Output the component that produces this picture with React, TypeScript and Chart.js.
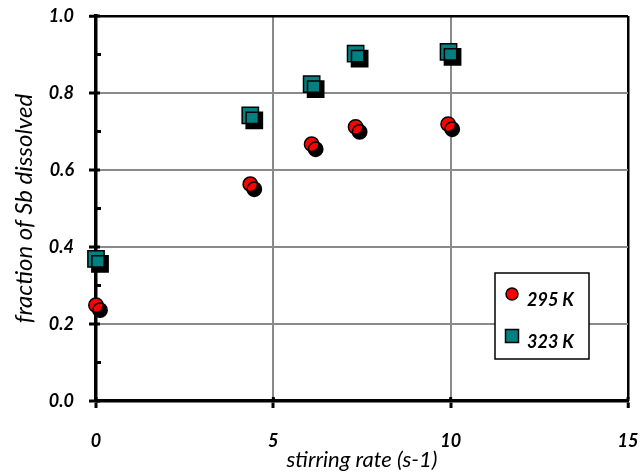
import React, { useEffect, useRef } from 'react';
import { Chart, registerables } from 'chart.js';

Chart.register(...registerables);

// ---- data ----
const seriesLabels = ['295 K', '323 K'];
const stirRate295 = [0, 4.35, 6.08, 7.32, 9.93];
const fraction295 = [0.249, 0.563, 0.667, 0.712, 0.719];
const stirRate323 = [0, 4.35, 6.08, 7.32, 9.94];
const fraction323 = [0.369, 0.742, 0.823, 0.902, 0.907];
const seriesColors = ['#ff0000', '#008080'];
const seriesShapes = ['circle', 'rect'];
const yMinorTicks = [0.1, 0.3, 0.5, 0.7, 0.9];
const xTitle = 'stirring rate (s-1)';
const yTitle = 'fraction of Sb dissolved';

const FONT = 'Lato, "Open Sans", sans-serif';

const shadowPlugin = {
  id: 'markerShadow',
  beforeDatasetDraw(chart: any) {
    const ctx = chart.ctx;
    ctx.save();
    ctx.shadowColor = '#000';
    ctx.shadowBlur = 0;
    ctx.shadowOffsetX = 4;
    ctx.shadowOffsetY = 5;
  },
  afterDatasetDraw(chart: any) {
    chart.ctx.restore();
  },
};

const ticksPlugin = {
  id: 'innerTicks',
  afterDraw(chart: any) {
    const ctx = chart.ctx;
    const { left, bottom } = chart.chartArea;
    const ys = chart.scales.y;
    const xs = chart.scales.x;
    ctx.save();
    ctx.strokeStyle = '#000';
    ctx.lineWidth = 3;
    ys.ticks.forEach((t: any) => {
      const py = ys.getPixelForValue(t.value);
      ctx.beginPath();
      ctx.moveTo(left, py);
      ctx.lineTo(left + 4, py);
      ctx.stroke();
    });
    yMinorTicks.forEach((v) => {
      const py = ys.getPixelForValue(v);
      ctx.beginPath();
      ctx.moveTo(left, py);
      ctx.lineTo(left + 5, py);
      ctx.stroke();
    });
    xs.ticks.forEach((t: any) => {
      const px = xs.getPixelForValue(t.value);
      ctx.beginPath();
      ctx.moveTo(px, bottom);
      ctx.lineTo(px, bottom - 4);
      ctx.stroke();
    });
    ctx.restore();
  },
};

const legendPlugin = {
  id: 'boxLegend',
  afterDraw(chart: any) {
    const ctx = chart.ctx;
    const { right, bottom } = chart.chartArea;
    const bw = 94;
    const bh = 86;
    const bx = right - 39 - bw;
    const by = bottom - 42 - bh;
    ctx.save();
    ctx.fillStyle = '#fff';
    ctx.fillRect(bx, by, bw, bh);
    ctx.strokeStyle = '#000';
    ctx.lineWidth = 1.5;
    ctx.strokeRect(bx, by, bw, bh);
    const rows = [21, 63];
    chart.data.datasets.forEach((ds: any, i: number) => {
      const cy = by + rows[i];
      const cx = bx + 17;
      ctx.fillStyle = ds.backgroundColor;
      ctx.strokeStyle = '#000';
      ctx.lineWidth = 1.5;
      ctx.beginPath();
      if (ds.pointStyle === 'rect') {
        ctx.rect(cx - 6.5, cy - 6.5, 13, 13);
      } else {
        ctx.arc(cx, cy, 6, 0, Math.PI * 2);
      }
      ctx.fill();
      ctx.stroke();
      ctx.fillStyle = '#000';
      ctx.font = `italic bold 18px ${FONT}`;
      ctx.textAlign = 'left';
      ctx.textBaseline = 'middle';
      ctx.fillText(ds.label, bx + 32, cy + 6);
    });
    ctx.restore();
  },
};

const isEdge = (v: number, edge: number) => Math.abs(v - edge) < 1e-6;

export default function App() {
  const ref = useRef<HTMLCanvasElement | null>(null);
  useEffect(() => {
    if (!ref.current) return;
    const mk = (xs: number[], ys: number[]) => xs.map((x, i) => ({ x, y: ys[i] }));
    const chart = new Chart(ref.current, {
      type: 'scatter',
      data: {
        datasets: [
          {
            label: seriesLabels[0],
            data: mk(stirRate295, fraction295),
            backgroundColor: seriesColors[0],
            borderColor: '#000',
            borderWidth: 1.5,
            pointStyle: seriesShapes[0] as any,
            pointRadius: 7.2,
            clip: false as any,
          },
          {
            label: seriesLabels[1],
            data: mk(stirRate323, fraction323),
            backgroundColor: seriesColors[1],
            borderColor: '#000',
            borderWidth: 1.5,
            pointStyle: seriesShapes[1] as any,
            pointRadius: 11.5,
            clip: false as any,
          },
        ],
      },
      options: {
        animation: false,
        responsive: false,
        devicePixelRatio: 1,
        layout: { padding: { top: 16, right: 9, left: 0, bottom: 0 } },
        plugins: { legend: { display: false }, tooltip: { enabled: false } },
        scales: {
          x: {
            type: 'linear',
            min: 0,
            max: 15,
            afterFit: (s: any) => {
              s.height = 73;
              s.paddingLeft = 0;
              s.paddingRight = 0;
            },
            ticks: {
              stepSize: 5,
              padding: 22,
              color: '#000',
              font: { family: FONT, size: 18, style: 'italic', weight: 'bold' },
            },
            grid: {
              color: (c: any) => (c.tick && isEdge(c.tick.value, 15) ? '#000' : '#8a8a8a'),
              lineWidth: (c: any) => (c.tick && isEdge(c.tick.value, 15) ? 2.5 : 2),
              tickColor: '#000',
              tickWidth: 3,
              tickLength: 7,
            },
            border: { color: '#000', width: 3.5 },
            title: {
              display: true,
              text: xTitle,
              color: '#000',
              padding: { top: 0, bottom: 1 },
              font: { family: FONT, size: 22, style: 'italic', weight: 'normal' },
            },
          },
          y: {
            type: 'linear',
            min: 0,
            max: 1,
            afterFit: (s: any) => {
              s.width = 96;
              s.paddingTop = 0;
              s.paddingBottom = 0;
            },
            ticks: {
              stepSize: 0.2,
              padding: 15,
              color: '#000',
              callback: (v: any) => Number(v).toFixed(1),
              font: { family: FONT, size: 18, style: 'italic', weight: 'bold' },
            },
            grid: {
              color: (c: any) => (c.tick && isEdge(c.tick.value, 1) ? '#000' : '#8a8a8a'),
              lineWidth: (c: any) => (c.tick && isEdge(c.tick.value, 1) ? 2.5 : 2),
              tickColor: '#000',
              tickWidth: 3,
              tickLength: 7,
            },
            border: { color: '#000', width: 3.5 },
            title: {
              display: true,
              text: yTitle,
              color: '#000',
              padding: { top: 10, bottom: 0 },
              font: { family: FONT, size: 24, style: 'italic', weight: 'normal' },
            },
          },
        },
      } as any,
      plugins: [shadowPlugin, ticksPlugin, legendPlugin],
    });
    return () => chart.destroy();
  }, []);
  return (
    <div style={{ position: 'fixed', left: 0, top: 0, width: 641, height: 474, background: '#fff' }}>
      <canvas ref={ref} width={641} height={474} />
    </div>
  );
}
